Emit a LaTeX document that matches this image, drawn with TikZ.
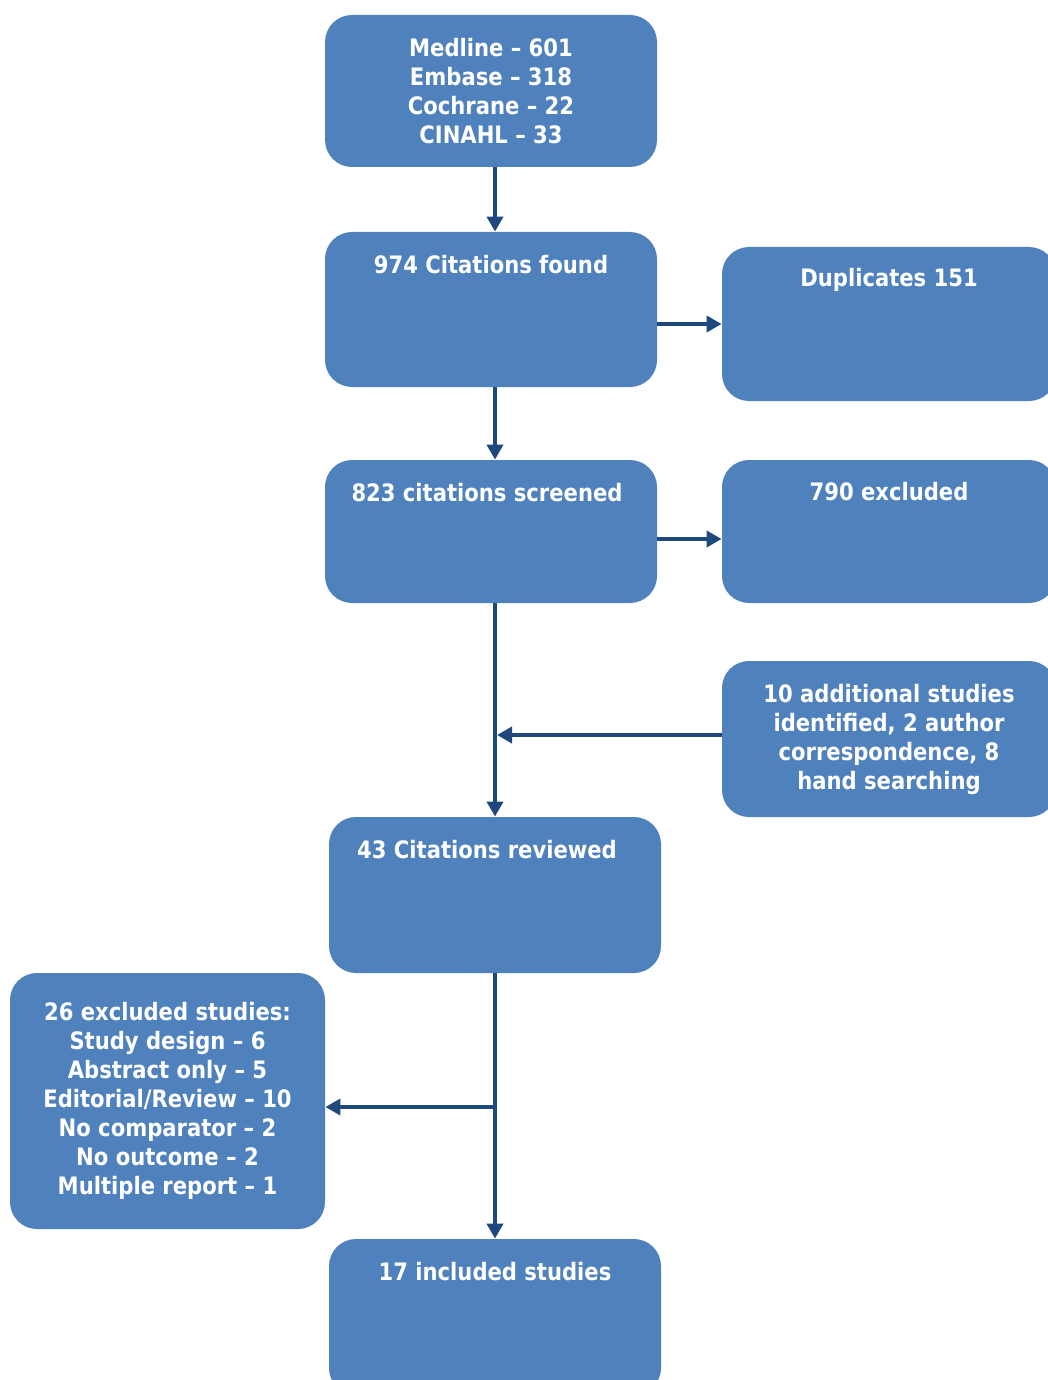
\documentclass[tikz,border=0pt]{standalone}
\usepackage{fontspec}
\setmainfont{DejaVu Sans}[FakeStretch=0.88]
\usetikzlibrary{arrows.meta,positioning,calc}

\definecolor{boxblue}{HTML}{4F81BD}
\definecolor{arrowblue}{HTML}{1F497D}

\tikzset{
    box/.style={fill=boxblue, rounded corners=13.5pt, inner sep=0pt, text=white,
        font=\bfseries\fontsize{12}{14.5}\selectfont, align=center},
    bigbox/.style={box, minimum width=166pt, minimum height=#1},
    title/.style={text=white, inner sep=0pt, font=\bfseries\fontsize{12}{14.5}\selectfont},
    flow/.style={draw=arrowblue, line width=2pt, -{Triangle[length=7.5pt,width=8pt]}}
}

\begin{document}
\begin{tikzpicture}[x=0.5pt, y=-0.5pt]
    \useasboundingbox (0,0) rectangle (1048,1380);
    \clip (0,0) rectangle (1048,1380);

    % main column
    \coordinate (spine) at (495,0);

    \node[bigbox=76pt] (src) at (491,91) {Medline – 601\\Embase – 318\\Cochrane – 22\\CINAHL – 33};

    \node[bigbox=77.5pt] (found) at (491,309.5) {};
    \node[title] (foundtxt) at ([yshift=-16.5pt]found.north) {974 Citations found};

    \node[bigbox=71.5pt] (screened) at (491,531.5) {};
    \node[title] (screenedtxt) at ([xshift=-2pt, yshift=-16.5pt]screened.north) {823 citations screened};

    \node[bigbox=78pt] (reviewed) at (495,895) {};
    \node[title] (reviewedtxt) at ([xshift=-4pt, yshift=-16.5pt]reviewed.north) {43 Citations reviewed};

    \node[bigbox=78pt] (incl) at (495,1317) {};
    \node[title] (incltxt) at ([yshift=-16.5pt]incl.north) {17 included studies};

    % side boxes
    \node[box, minimum width=167pt, minimum height=77pt] (dup) at (889,324) {};
    \node[title] (duptxt) at ([yshift=-16.5pt]dup.north) {Duplicates 151};

    \node[box, minimum width=167pt, minimum height=71.5pt] (ex790) at (889,531.5) {};
    \node[title] (ex790txt) at ([yshift=-16pt]ex790.north) {790 excluded};

    \node[box, minimum width=167pt, minimum height=78pt] (addl) at (889,739)
        {10 additional studies\\identified, 2 author\\correspondence, 8\\hand searching};

    \node[box, minimum width=157.5pt, minimum height=128pt] (ex26) at (167.5,1101)
        {26 excluded studies:\\Study design – 6\\Abstract only – 5\\Editorial/Review – 10\\No comparator – 2\\No outcome – 2\\Multiple report – 1};

    % connectors
    \coordinate (split) at (495,1107);

    \draw[flow] (src.south -| spine) -- (found.north -| spine);
    \draw[flow] (found.east |- dup.west) -- (dup.west);
    \draw[flow] (found.south -| spine) -- (screened.north -| spine);
    \draw[flow] ([yshift=-3.75pt]screened.east) -- ([yshift=-3.75pt]ex790.west);
    \draw[flow] (screened.south -| spine) -- (reviewed.north);
    \draw[flow, shorten >=1pt] ([yshift=2pt]addl.west) -- ([yshift=2pt]addl.west -| spine);
    \draw[flow] (reviewed.south) -- (incl.north);
    \draw[flow] (split) -- (ex26.east |- split);
\end{tikzpicture}
\end{document}
